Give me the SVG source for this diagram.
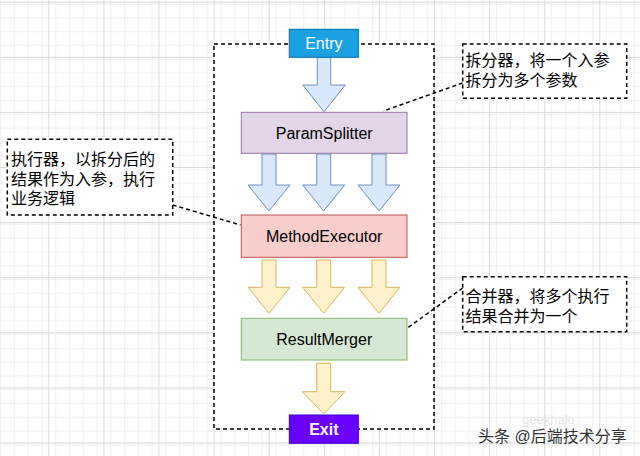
<svg xmlns="http://www.w3.org/2000/svg" width="640" height="456" viewBox="0 0 640 456">
<defs>
<pattern id="minor" patternUnits="userSpaceOnUse" x="-6.8" y="1.7" width="13.775" height="13.775">
<path d="M0 0.5H13.775M0.5 0V13.775" fill="none" stroke="#eeeeee" stroke-width="1"/>
</pattern>
<pattern id="major" patternUnits="userSpaceOnUse" x="-6.8" y="1.7" width="55.1" height="55.1">
<rect width="55.1" height="55.1" fill="url(#minor)"/>
<path d="M0 0.5H55.1M0.5 0V55.1" fill="none" stroke="#d9d9d9" stroke-width="1"/>
</pattern>
</defs>
<style>
.t{font-family:"Liberation Sans","Noto Sans CJK SC",sans-serif;font-size:16px;fill:#000}
.c{text-anchor:middle}
.w{fill:#fff}
.dash{fill:#fff;stroke:#000;stroke-width:1.5;stroke-dasharray:4 3}
.dl{fill:none;stroke:#000;stroke-width:1.5;stroke-dasharray:4 3}
.ba{fill:#dae8fc;stroke:#6c8ebf;stroke-width:1}
.ya{fill:#fff2cc;stroke:#d6b656;stroke-width:1}
</style>
<rect width="640" height="456" fill="#fff"/>
<rect width="640" height="456" fill="url(#major)"/>
<g id="container"><rect class="dash" x="214" y="44" width="220" height="385"/></g>
<g id="connectors">
<path class="ba" d="M317.3 57.3H330.7V85H345.3L324 111.7L302.7 85H317.3Z"/>
<path class="ba" d="M262 154H276V185H290L269 211L248 185H262Z"/>
<path class="ba" d="M316.7 154H330.7V185H344.7L323.7 211L302.7 185H316.7Z"/>
<path class="ba" d="M372 154H386V185H400L379 211L358 185H372Z"/>
<path class="ya" d="M262 260H276V287.3H290L269 313.3L248 287.3H262Z"/>
<path class="ya" d="M316.7 260H330.7V287.3H344.7L323.7 313.3L302.7 287.3H316.7Z"/>
<path class="ya" d="M372 260H386V287.3H400L379 313.3L358 287.3H372Z"/>
<path class="ya" d="M316.7 363.3H330.7V391.7H345L323.7 414L302.3 391.7H316.7Z"/>
<path class="dl" d="M462.7 83L383.3 111"/>
<path class="dl" d="M172.7 205L240.5 225"/>
<path class="dl" d="M462.7 288L407.5 328"/>
</g>
<g id="entry">
<rect x="289.3" y="29.3" width="69" height="28" fill="#1ba1e2" stroke="#006eaf" stroke-width="1"/>
<text class="t c w" x="323.8" y="49">Entry</text>
</g>
<g id="paramSplitter">
<rect x="241.3" y="112.3" width="165.7" height="41" fill="#e1d5e7" stroke="#9673a6" stroke-width="1"/>
<text class="t c" x="324.2" y="138.5">ParamSplitter</text>
</g>
<g id="methodExecutor">
<rect x="241.3" y="215" width="165.7" height="42.3" fill="#f8cecc" stroke="#b85450" stroke-width="1"/>
<text class="t c" x="324.2" y="241.8">MethodExecutor</text>
</g>
<g id="resultMerger">
<rect x="241.3" y="318.3" width="165.7" height="41.7" fill="#d5e8d4" stroke="#82b366" stroke-width="1"/>
<text class="t c" x="324.2" y="344.8">ResultMerger</text>
</g>
<g id="exit">
<rect x="289.3" y="415" width="69" height="28.3" fill="#6a00ff" stroke="#3700cc" stroke-width="1"/>
<text class="t c w" x="323.8" y="435" font-weight="bold">Exit</text>
</g>
<g id="note-splitter">
<rect class="dash" x="462.7" y="44" width="164" height="54.3"/>
<text class="t" x="465.5" y="66">拆分器，将一个入参</text>
<text class="t" x="465.5" y="86">拆分为多个参数</text>
</g>
<g id="note-executor">
<rect class="dash" x="7.3" y="139.3" width="165.4" height="75.7"/>
<text class="t" x="11" y="165">执行器，以拆分后的</text>
<text class="t" x="11" y="184.5">结果作为入参，执行</text>
<text class="t" x="11" y="204">业务逻辑</text>
</g>
<g id="note-merger">
<rect class="dash" x="462.7" y="276.7" width="164" height="55"/>
<text class="t" x="465.5" y="302">合并器，将多个执行</text>
<text class="t" x="465.5" y="322">结果合并为一个</text>
</g>
<text x="522" y="424" font-family="Liberation Sans,sans-serif" font-size="13" fill="#e4e4e4">geekhalo</text>
<text x="478" y="441.5" font-family="Liberation Sans,'Noto Sans CJK SC',sans-serif" font-size="16" fill="#333" stroke="#fff" stroke-width="0.4" paint-order="stroke">头条 @后端技术分享</text>
</svg>
